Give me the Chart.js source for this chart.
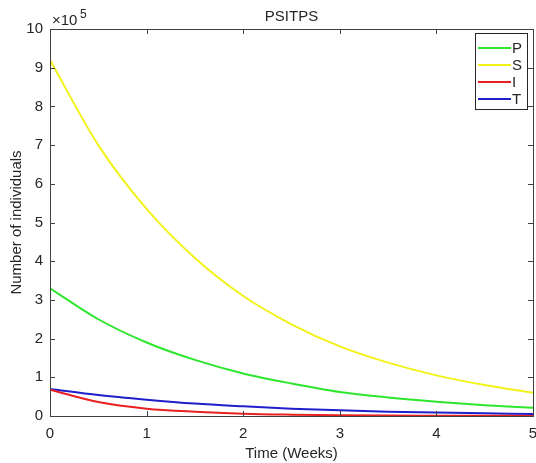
<!DOCTYPE html>
<html>
<head>
<meta charset="utf-8">
<script src="https://cdn.jsdelivr.net/npm/chart.js@4.4.1/dist/chart.umd.min.js"></script>
<style>
  body { margin: 0; background: #fff; }
  #wrap { width: 536px; height: 463px; }
</style>
</head>
<body>
<div id="wrap"><canvas id="psitps" width="536" height="463"></canvas></div>
<script>
// time points (weeks) and compartment sizes
const weeks = [0, 0.5, 1, 1.5, 2, 2.5, 3, 3.5, 4, 4.5, 5];
const pValues = [330000, 250000, 190000, 145000, 110000, 84000, 62000, 48000, 37000, 28000, 21000];
const sValues = [920000, 700000, 535000, 408000, 310000, 237000, 180000, 138000, 105000, 80000, 60000];
const iValues = [68000, 36000, 19000, 11000, 6000, 3500, 2000, 1200, 800, 500, 300];
const tValues = [70000, 54000, 42000, 32000, 25000, 19000, 15000, 11000, 9000, 7000, 5000];
const seriesNames = ["P", "S", "I", "T"];
const seriesColors = ["#2ee62e", "#f2f21a", "#e82020", "#1f1fcc"];
const yTicks = [0, 1, 2, 3, 4, 5, 6, 7, 8, 9, 10]; // in units of 10^5

const axisColor = "#404040";
const textColor = "#262626";
const fontFamily = "'Liberation Sans', Arial, sans-serif";

function points(vals) {
  return vals.map((v, i) => ({ x: weeks[i], y: v }));
}

const allSeries = [pValues, sValues, iValues, tValues];

// box, inward ticks, exponent label, title and legend, MATLAB style
const matlabDecor = {
  id: "matlabDecor",
  afterDraw(chart) {
    const ctx = chart.ctx;
    const area = chart.chartArea;
    const xs = chart.scales.x;
    const ys = chart.scales.y;
    ctx.save();
    ctx.strokeStyle = axisColor;
    ctx.lineWidth = 1;
    ctx.strokeRect(area.left + 0.5, area.top + 0.5, area.right - area.left, area.bottom - area.top);

    ctx.beginPath();
    for (let t = 0; t <= 5; t++) {
      const px = Math.round(xs.getPixelForValue(t)) + 0.5;
      ctx.moveTo(px, area.bottom);
      ctx.lineTo(px, area.bottom - 5);
      ctx.moveTo(px, area.top);
      ctx.lineTo(px, area.top + 5);
    }
    yTicks.forEach((t) => {
      const py = Math.round(ys.getPixelForValue(t * 1e5)) + 0.5;
      ctx.moveTo(area.left, py);
      ctx.lineTo(area.left + 5, py);
      ctx.moveTo(area.right, py);
      ctx.lineTo(area.right - 5, py);
    });
    ctx.stroke();

    // exponent
    ctx.fillStyle = textColor;
    ctx.textBaseline = "alphabetic";
    ctx.textAlign = "left";
    ctx.font = "15px " + fontFamily;
    ctx.fillText("\u00d710", area.left + 2, area.top - 4);
    ctx.font = "12px " + fontFamily;
    ctx.fillText("5", area.left + 30, area.top - 11);

    // title
    ctx.font = "15px " + fontFamily;
    ctx.textAlign = "center";
    ctx.textBaseline = "middle";
    ctx.fillText("PSITPS", (area.left + area.right) / 2, 17);

    // legend
    const bx = area.right - 58, by = area.top + 4, bw = 52, bh = 76;
    ctx.fillStyle = "#fff";
    ctx.fillRect(bx, by, bw, bh);
    ctx.strokeStyle = textColor;
    ctx.lineWidth = 1;
    ctx.strokeRect(bx + 0.5, by + 0.5, bw, bh);
    chart.data.datasets.forEach((ds, i) => {
      const ly = by + 15 + i * 17;
      ctx.strokeStyle = ds.borderColor;
      ctx.lineWidth = 2;
      ctx.beginPath();
      ctx.moveTo(bx + 3, ly);
      ctx.lineTo(bx + 36, ly);
      ctx.stroke();
      ctx.fillStyle = textColor;
      ctx.textAlign = "left";
      ctx.font = "15px " + fontFamily;
      ctx.fillText(ds.label, bx + 37, ly + 1);
    });
    ctx.restore();
  }
};

new Chart(document.getElementById("psitps"), {
  type: "line",
  data: {
    datasets: seriesNames.map((name, i) => ({
      label: name,
      data: points(allSeries[i]),
      borderColor: seriesColors[i],
      backgroundColor: seriesColors[i],
      borderWidth: 2,
      pointRadius: 0,
      cubicInterpolationMode: "monotone",
      fill: false
    }))
  },
  options: {
    responsive: false,
    animation: false,
    layout: { padding: { top: 29, right: 3, left: 0, bottom: 0 } },
    plugins: {
      legend: { display: false },
      title: { display: false },
      tooltip: { enabled: false }
    },
    scales: {
      x: {
        type: "linear",
        min: 0,
        max: 5,
        grid: { display: false, drawTicks: false },
        border: { display: true, color: axisColor },
        ticks: {
          stepSize: 1,
          padding: 9,
          color: textColor,
          font: { family: fontFamily, size: 15 }
        },
        title: {
          display: true,
          text: "Time (Weeks)",
          color: textColor,
          font: { family: fontFamily, size: 15 },
          padding: { top: 0, bottom: 0 }
        },
        afterFit(scale) {
          scale.height = 47;
          scale.paddingLeft = 0;
          scale.paddingRight = 0;
        }
      },
      y: {
        min: 0,
        max: 1000000,
        grid: { display: false, drawTicks: false },
        border: { display: true, color: axisColor },
        afterBuildTicks(scale) {
          scale.ticks = yTicks.map((t) => ({ value: t * 1e5 }));
        },
        ticks: {
          padding: 7,
          color: textColor,
          font: { family: fontFamily, size: 15 },
          callback: (v) => String(Math.round(v / 1e5))
        },
        title: {
          display: true,
          text: "Number of individuals",
          color: textColor,
          font: { family: fontFamily, size: 15 },
          padding: { top: 8, bottom: 0 }
        },
        afterFit(scale) {
          scale.width = 50;
          scale.paddingTop = 0;
          scale.paddingBottom = 0;
        }
      }
    }
  },
  plugins: [matlabDecor]
});
</script>
</body>
</html>
